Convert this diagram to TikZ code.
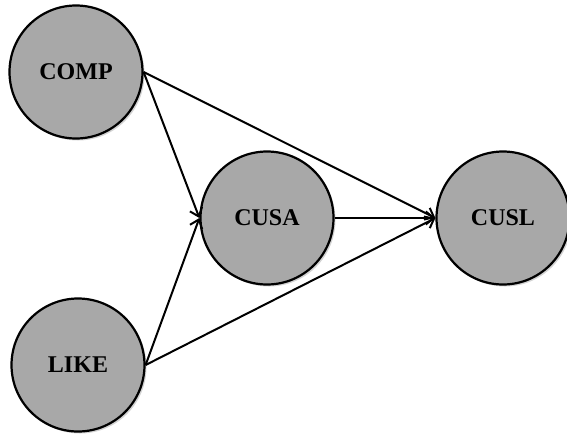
\documentclass[tikz,border=0pt]{standalone}
\usepackage{fontspec}
\setmainfont{Liberation Serif}
\usetikzlibrary{arrows.meta,shadows}
\definecolor{constgray}{RGB}{168,168,168}

\begin{document}
\begin{tikzpicture}[x=1pt,y=-1pt,
    construct/.style={circle,draw,line width=2.2pt,fill=constgray,minimum size=133pt,
        font=\fontsize{24}{26}\selectfont\bfseries,
        drop shadow={opacity=0.35,shadow xshift=2pt,shadow yshift=-2pt}},
    path/.style={-{Straight Barb[length=8pt,width=13pt,line width=2pt]},line width=2pt}]
            \useasboundingbox (0,0) rectangle (567,437);
            \node[construct] (comp) at (76,72) {COMP};
            \node[construct] (like) at (78,365) {LIKE};
            \node[construct] (cusa) at (267,218) {CUSA};
            \node[construct] (cusl) at (503,218) {CUSL};
            % paths
            \draw[path] (comp.east) -- (cusa.west);
            \draw[path] (like.east) -- (cusa.west);
            \draw[path] (comp.east) -- (cusl.west);
            \draw[path] (like.east) -- (cusl.west);
            \draw[path] (cusa.east) -- (cusl.west);
\end{tikzpicture}
\end{document}
